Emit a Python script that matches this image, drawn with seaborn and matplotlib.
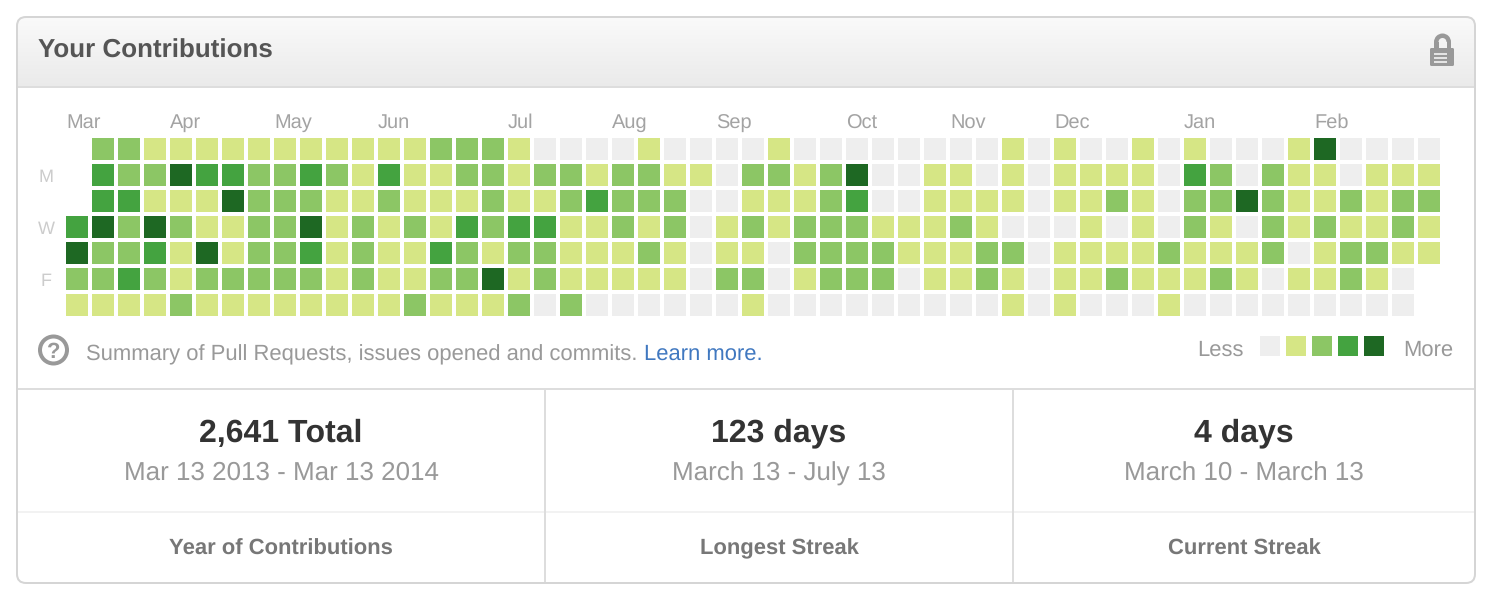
import numpy as np
import matplotlib
matplotlib.use("Agg")
import matplotlib.pyplot as plt
from matplotlib.colors import ListedColormap
from matplotlib.patches import FancyBboxPatch, Rectangle, Circle, Wedge
from matplotlib.transforms import ScaledTranslation
import seaborn as sns

# -1 marks a day outside the range (no cell)
sun = [-1,2,2,1,1,1,1,1,1,1,1,1,1,1,2,2,2,1,0,0,0,0,1,0,0,0,0,1,0,0,0,0,0,0,0,0,1,0,1,0,0,1,0,1,0,0,0,1,4,0,0,0,0]
mon = [-1,3,2,2,4,3,3,2,2,3,2,1,3,1,1,2,2,1,2,2,1,2,2,1,1,0,2,2,1,2,4,0,0,1,1,0,1,0,1,1,1,1,0,3,2,0,2,1,1,0,1,1,1]
tue = [-1,3,3,1,1,1,4,2,2,2,1,1,2,1,1,1,2,1,1,2,3,2,2,2,0,0,1,1,1,2,3,0,0,1,1,1,1,0,1,1,2,1,0,2,2,4,2,1,1,2,1,2,2]
wed = [3,4,2,4,2,1,1,2,2,4,1,2,1,2,1,3,2,3,3,1,1,2,1,2,0,1,2,1,2,2,2,1,1,1,2,1,0,0,0,1,0,1,0,2,1,0,2,1,2,1,1,2,1]
thu = [4,2,2,3,1,4,1,2,2,3,1,2,1,1,3,2,1,2,2,1,1,1,2,1,0,1,1,0,2,2,2,2,1,1,1,2,2,0,1,1,1,1,2,1,1,1,2,0,1,2,2,1,1]
fri = [2,2,3,2,1,2,2,2,2,2,1,2,1,1,2,2,4,1,2,1,1,1,1,1,0,2,2,0,1,2,2,2,0,1,1,2,1,0,1,1,2,1,1,1,2,1,0,1,1,2,1,0,-1]
sat = [1,1,1,1,2,1,1,1,1,1,1,1,1,2,1,1,1,2,0,2,0,0,0,0,0,0,1,0,0,0,0,0,0,0,0,0,1,0,1,0,0,0,1,0,0,0,0,0,0,0,0,0,-1]
legend_levels = [0, 1, 2, 3, 4]
palette = ["#eeeeee", "#d6e685", "#8cc665", "#44a340", "#1e6823"]
months = ["Mar","Apr","May","Jun","Jul","Aug","Sep","Oct","Nov","Dec","Jan","Feb"]
month_cols = [0,4,8,12,17,21,25,30,34,38,43,48]
days = ["M","W","F"]
day_rows = [1,3,5]
stat_big = ["2,641 Total","123 days","4 days"]
stat_sub = ["Mar 13 2013 - Mar 13 2014","March 13 - July 13","March 10 - March 13"]
stat_cap = ["Year of Contributions","Longest Streak","Current Streak"]
stat_x = [281,779,1244]
big_y = [442,441,441]
sub_y = [480,481,481]
cap_y = [555,554,555]

W, H = 1490, 596
PX = 0.72
sns.set_theme(style="white")
plt.rcParams["font.family"] = ["Liberation Sans", "DejaVu Sans"]
plt.rcParams["text.hinting"] = "none"
plt.rcParams["text.hinting_factor"] = 1
fig = plt.figure(figsize=(W/100, H/100), dpi=100, facecolor="white")

def axpx(x0, y0, x1, y1, **kw):
    return fig.add_axes([x0/W, 1-y1/H, (x1-x0)/W, (y1-y0)/H], **kw)

# panel overlay in pixel coordinates
bg = axpx(0, 0, W, H)
bg.set_xlim(0, W); bg.set_ylim(H, 0); bg.axis("off")
panel = FancyBboxPatch((17, 17), 1458, 566, boxstyle="round,pad=0,rounding_size=9",
                       fc="white", ec="none", zorder=1)
bg.add_patch(panel)
grad = np.linspace(0, 1, 70)[:, None]
im = bg.imshow(grad, extent=(17, 1475, 87, 17), aspect="auto", zorder=2,
               cmap=ListedColormap(np.linspace([0.98,0.98,0.98],[0.918,0.918,0.918],70)))
im.set_clip_path(panel)
bg.set_xlim(0, W); bg.set_ylim(H, 0)
LINE = "#dddddd"
bg.plot([17,1475],[87,87],color=LINE,lw=2*PX,zorder=3,solid_capstyle="butt")
bg.plot([17,1475],[389,389],color=LINE,lw=2*PX,zorder=3,solid_capstyle="butt")
bg.plot([17,1475],[512,512],color="#f2f2f2",lw=2*PX,zorder=3,solid_capstyle="butt")
for x in (545,1013):
    bg.plot([x,x],[389,583],color=LINE,lw=2*PX,zorder=3,solid_capstyle="butt")
bg.add_patch(FancyBboxPatch((17,17),1458,566,boxstyle="round,pad=0,rounding_size=9",
                            fc="none",ec="#d5d5d5",lw=2*PX,zorder=4))

bg.text(38,58,"Your Contributions",fontsize=26*PX,fontweight="bold",color="#555555",va="baseline",ha="left",zorder=5)

# lock icon
G = "#999999"
bg.add_patch(Wedge((1442.5,42),8.5,180,360,width=4.5,fc=G,ec="none",zorder=5))
bg.add_patch(Rectangle((1434,42),4.5,8,fc=G,ec="none",zorder=5))
bg.add_patch(Rectangle((1446.5,42),4.5,8,fc=G,ec="none",zorder=5))
bg.add_patch(FancyBboxPatch((1430,48),24,18,boxstyle="round,pad=0,rounding_size=1.5",fc=G,ec="none",zorder=5))
for y in (53,57,61):
    bg.add_patch(Rectangle((1434,y),13,1.6,fc="#e4e4e4",ec="none",zorder=6))

# help icon
bg.add_patch(Circle((53.5,350),13.5,fc="none",ec=G,lw=4*PX,zorder=5))
bg.text(53.5,358,"?",fontsize=22*PX,fontweight="bold",color=G,ha="center",va="baseline",zorder=5)
bg.text(86,360,"Summary of Pull Requests, issues opened and commits.",fontsize=22*PX,color="#999999",va="baseline",ha="left",zorder=5)
bg.text(644,360,"Learn more.",fontsize=22*PX,color="#4078c0",va="baseline",ha="left",zorder=5)
bg.text(1244,356,"Less",fontsize=22*PX,color="#999999",va="baseline",ha="right",zorder=5)
bg.text(1403,356,"More",fontsize=22*PX,color="#999999",va="baseline",ha="left",zorder=5)

for i,x in enumerate(stat_x):
    bg.text(x,big_y[i],stat_big[i],fontsize=32*PX,fontweight="bold",color="#333333",ha="center",va="baseline",zorder=5)
    bg.text(x,sub_y[i],stat_sub[i],fontsize=26*PX,color="#999999",ha="center",va="baseline",zorder=5)
    bg.text(x,cap_y[i],stat_cap[i],fontsize=22*PX,fontweight="bold",color="#777777",ha="center",va="baseline",zorder=5)

# calendar heatmap
grid = np.array([sun,mon,tue,wed,thu,fri,sat],dtype=float)
ax = axpx(64,136,64+53*26,136+7*26)
ax.patch.set_alpha(0)
cmap = ListedColormap(palette)
sns.heatmap(grid,ax=ax,mask=grid<0,cmap=cmap,vmin=-0.5,vmax=4.5,cbar=False,
            linewidths=4*PX,linecolor="white",square=False,xticklabels=False,yticklabels=False)
ax.set_xticks([c+2/26 for c in month_cols])
ax.set_xticklabels(months,ha="left",fontsize=20*PX,color="#a3a3a3")
ax.xaxis.tick_top()
ax.tick_params(axis="x",length=0,pad=8.2*PX)
ax.tick_params(axis="y",length=0,pad=18*PX)
for lab in ax.get_xticklabels():
    lab.set_va("baseline")
    if lab.get_text() in ("Sep","Oct"):
        lab.set_transform(lab.get_transform() + ScaledTranslation(0, -1/100, fig.dpi_scale_trans))
ax.set_yticks([r+0.5+2/26 for r in day_rows])
ax.set_yticklabels(days,rotation=0,ha="center",va="center",fontsize=18*PX,color="#cccccc")
for s in ax.spines.values():
    s.set_visible(False)

# legend swatches
lg = axpx(1257,333,1387,359)
sns.heatmap(np.array([legend_levels],dtype=float),ax=lg,cmap=cmap,vmin=-0.5,vmax=4.5,cbar=False,
            linewidths=6*PX,linecolor="white",xticklabels=False,yticklabels=False)
for s in lg.spines.values():
    s.set_visible(False)

fig.savefig("out.png",dpi=100,facecolor="white")
